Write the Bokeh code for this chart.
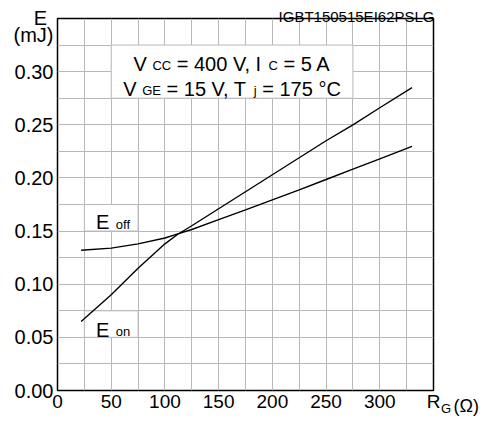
from bokeh.plotting import figure
from bokeh.models import Range1d, FixedTicker, PrintfTickFormatter, Label, ColumnDataSource
from bokeh.core.properties import value
from bokeh.embed import file_html
from bokeh.resources import INLINE

# ---------------- data ----------------
rg = [22, 50, 75, 100, 112, 125, 150, 175, 200, 225, 250, 275, 300, 330]
e_on = [0.065, 0.090, 0.115, 0.138, 0.147, 0.155, 0.171, 0.187, 0.203, 0.219,
        0.235, 0.250, 0.266, 0.285]
e_off = [0.132, 0.134, 0.138, 0.1435, 0.1474, 0.1515, 0.1607, 0.1700, 0.1794,
         0.1888, 0.1985, 0.2083, 0.2180, 0.2296]
x_ticks = [0, 50, 100, 150, 200, 250, 300, 350]
x_tick_labels = ["0", "50", "100", "150", "200", "250", "300", "R"]
y_ticks = [0.0, 0.05, 0.10, 0.15, 0.20, 0.25, 0.30]
y_unit_label = "(mJ)"
title_text = "IGBT150515EI62PSLG"

FONT = "Liberation Sans"
GRID = "#b8b8b8"
X_MAX, Y_MAX = 350, 0.35
W_PX, H_PX = 485, 416
LEFT, RIGHT, TOP, BOTTOM = 57, 52, 18, 26
FRAME_W = W_PX - LEFT - RIGHT
FRAME_H = H_PX - TOP - BOTTOM
PXX = X_MAX / FRAME_W
PXY = Y_MAX / FRAME_H

p = figure(width=W_PX, height=H_PX, x_range=Range1d(0, X_MAX), y_range=Range1d(0, Y_MAX),
           output_backend="svg", toolbar_location=None,
           min_border_left=LEFT, min_border_right=RIGHT, min_border_top=TOP,
           min_border_bottom=BOTTOM)
p.background_fill_color = "white"
p.border_fill_color = "white"
p.outline_line_color = "black"
p.outline_line_width = 1.5

unit_tick = round(Y_MAX - 16 * PXY, 6)
p.xaxis.ticker = FixedTicker(ticks=x_ticks)
p.xaxis.major_label_overrides = dict(zip(x_ticks, x_tick_labels))
p.yaxis.ticker = FixedTicker(ticks=y_ticks + [unit_tick])
p.yaxis.formatter = PrintfTickFormatter(format="%.2f")
p.yaxis.major_label_overrides = {unit_tick: y_unit_label}
p.xgrid.ticker = FixedTicker(ticks=[25 * i for i in range(1, 14)])
p.ygrid.ticker = FixedTicker(ticks=[round(0.025 * i, 3) for i in range(1, 14)])
for g in (p.xgrid[0], p.ygrid[0]):
    g.grid_line_color = GRID
    g.grid_line_width = 1

for ax in (p.xaxis[0], p.yaxis[0]):
    ax.axis_line_color = None
    ax.minor_tick_line_color = None
    ax.major_tick_out = 0
    ax.major_tick_in = 0
    ax.major_tick_line_color = None
    ax.major_label_text_font = FONT
    ax.major_label_text_color = "black"
p.xaxis.major_label_text_font_size = "19px"
p.yaxis.major_label_text_font_size = "20px"
p.xaxis.major_label_standoff = 0
p.yaxis.major_label_standoff = 4

# white boxes behind the labels (bordered like grid)
p.quad(left=[50, 25, 25], right=[275, 75, 75], bottom=[0.275, 0.15, 0.05],
       top=[0.325, 0.175, 0.075], fill_color="white", line_color=GRID, line_width=1)

# curves
p.line(rg, e_on, line_color="black", line_width=1.4)
p.line(rg, e_off, line_color="black", line_width=1.4)

# ------------- text with subscripts -------------
W = {'V': .667, ' ': .278, 'C': .722, '=': .584, '0': .556, '1': .556, '4': .556,
     '5': .556, '7': .556, ',': .278, 'I': .278, 'A': .667, 'G': .778, 'E': .667,
     'T': .611, 'j': .222, '°': .4}
MAIN, SUB = 20, 13


def tw(s, size):
    return sum(W[c] for c in s) * size


line1 = [("V", 0), (" ", 0), ("CC", 1), (" ", 0), ("= 400 V, I", 0), (" ", 0),
         ("C", 1), (" ", 0), ("= 5 A", 0)]
line2 = [("V", 0), (" ", 0), ("GE", 1), (" ", 0), ("= 15 V, T", 0), (" ", 0),
         ("j", 1), (" ", 0), ("= 175 °C", 0)]

xs, ys, txt, sizes = [], [], [], []
box_cx = 162.5
for parts, base_y in ((line1, 0.325 - 19 * PXY), (line2, 0.275 + 9 * PXY)):
    total = sum(tw(t, SUB if s else MAIN) for t, s in parts)
    cur = -total / 2
    for t, s in parts:
        size = SUB if s else MAIN
        if t.strip():
            xs.append(box_cx + cur * PXX)
            ys.append(base_y - (1 if s else 0) * PXY)
            txt.append(t)
            sizes.append(f"{size}px")
        cur += tw(t, size)

# curve labels E_off / E_on (relative to their white boxes)
for box_bottom, e_dy, sub, sub_dy in ((0.15, 9, "off", 7), (0.05, 7.3, "on", 6)):
    xs.append(38.5 * PXX); ys.append(box_bottom + e_dy * PXY); txt.append("E"); sizes.append("20px")
    xs.append(58.3 * PXX); ys.append(box_bottom + sub_dy * PXY); txt.append(sub); sizes.append("13px")

src = ColumnDataSource(dict(x=xs, y=ys, text=txt, size=sizes))
p.text(x="x", y="y", text="text", source=src, text_font=value(FONT),
       text_font_size="size", text_align="left", text_baseline="alphabetic",
       text_color="black")


# ------------- outside-frame labels (in side panels so they are not clipped) -------------
def lab(place, x, y, dx, dy, t, size, align="left"):
    p.add_layout(Label(x=x, y=y, x_offset=dx, y_offset=dy, text=t, text_font=FONT,
                       text_font_size=size, text_align=align,
                       text_baseline="alphabetic", text_color="black"), place)


lab("above", X_MAX, Y_MAX, 1, 2, title_text, "15px", "right")
lab("right", X_MAX, 0, 7.5, -18, "G", "13px")
lab("right", X_MAX, 0, 20, -15, "(\u03a9)", "18px")
lab("right", 0, Y_MAX, -17, 1, "E", "20px", "center")

open("out.html", "w").write(file_html(p, INLINE))
